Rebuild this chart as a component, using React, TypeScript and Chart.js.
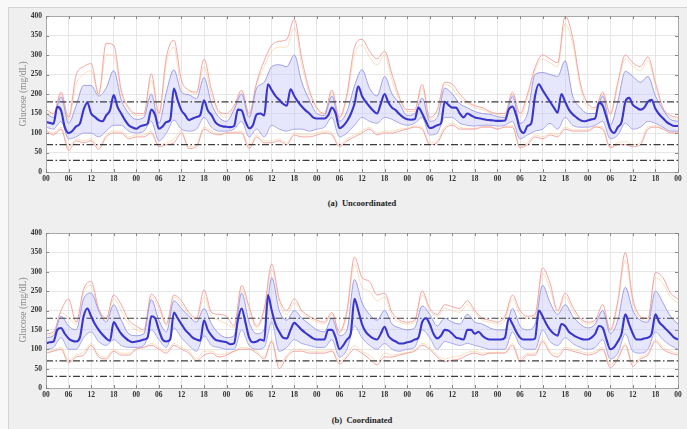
import React, { useEffect, useRef } from 'react';
import { Chart, registerables } from 'chart.js';

Chart.register(...registerables);

// ---------- axes / labels ----------
const X_MAX = 168;
const MEAN_STEP = 1; // hours between mean samples
const BAND_STEP = 2; // hours between percentile samples
const X_TICK_STEP = 6;
const X_TICK_LABELS = ['00', '06', '12', '18'];
const Y_MIN = 0;
const Y_MAX = 400;
const Y_STEP = 50;
const REF_LINES = [180, 70, 30];
const Y_TITLE = 'Glucose (mg/dL)';
const CAPTION_A = '(a)  Uncoordinated';
const CAPTION_B = '(b)  Coordinated';

// ---------- (a) Uncoordinated ----------
const MEAN_A = [
  128, 126, 124, 167, 158, 115, 100, 105, 117, 124, 160, 178, 150, 141, 133, 130, 145, 158, 197, 167, 150, 133, 120, 114,
  111, 117, 120, 124, 160, 146, 111, 117, 128, 133, 214, 184, 158, 146, 133, 137, 141, 146, 184, 158, 146, 128, 120, 117,
  116, 115, 118, 160, 158, 130, 112, 120, 148, 150, 145, 225, 210, 195, 185, 175, 170, 212, 195, 180, 168, 158, 150, 140,
  137, 137, 137, 145, 165, 150, 112, 118, 130, 148, 175, 220, 195, 180, 168, 157, 150, 175, 200, 178, 165, 158, 148, 140,
  135, 134, 135, 165, 150, 130, 113, 115, 120, 125, 180, 172, 165, 165, 150, 140, 150, 145, 140, 138, 136, 134, 133, 132,
  131, 131, 132, 160, 168, 145, 110, 100, 118, 125, 195, 225, 210, 195, 180, 165, 152, 200, 180, 160, 148, 140, 133, 130,
  132, 135, 138, 178, 170, 140, 110, 100, 115, 128, 180, 190, 172, 165, 160, 165, 180, 185, 162, 148, 138, 128, 122, 118, 118,
];
const Q75_A = [
  150, 140, 193, 125, 170, 222, 222, 195, 215, 260, 185, 150,
  135, 140, 200, 125, 205, 262, 205, 198, 188, 242, 175, 140,
  130, 160, 200, 140, 215, 230, 270, 275, 270, 300, 230, 185,
  150, 145, 195, 130, 155, 220, 262, 215, 195, 245, 200, 175,
  145, 150, 190, 130, 140, 215, 200, 175, 165, 155, 150, 148,
  142, 140, 195, 125, 150, 250, 255, 250, 245, 285, 195, 165,
  150, 150, 195, 120, 180, 258, 245, 230, 245, 195, 160, 135,
  130,
];
const Q25_A = [
  115, 110, 130, 85, 90, 100, 100, 90, 105, 120, 120, 105,
  100, 105, 130, 80, 100, 133, 110, 105, 110, 140, 115, 105,
  105, 110, 130, 90, 110, 90, 120, 110, 105, 110, 110, 105,
  110, 115, 140, 90, 100, 120, 140, 130, 125, 140, 135, 125,
  120, 125, 140, 95, 100, 140, 140, 125, 120, 118, 120, 120,
  118, 120, 130, 85, 95, 105, 110, 125, 110, 140, 120, 115,
  115, 120, 130, 85, 95, 125, 110, 115, 130, 125, 115, 105,
  105,
];
const MAX_A = [
  160, 150, 205, 140, 248, 270, 278, 200, 330, 325, 210, 165,
  150, 150, 252, 150, 295, 338, 235, 210, 205, 289, 210, 155,
  150, 170, 210, 150, 230, 285, 325, 335, 340, 392, 290, 210,
  165, 150, 210, 140, 200, 320, 340, 310, 290, 310, 250, 190,
  160, 160, 225, 140, 160, 230, 225, 200, 180, 170, 165, 155,
  150, 150, 205, 150, 200, 268, 300, 290, 280, 400, 345, 230,
  175, 165, 205, 150, 230, 300, 280, 270, 295, 230, 165, 145,
  140,
];
const MIN_A = [
  105, 95, 110, 55, 80, 75, 80, 58, 90, 100, 100, 85,
  90, 90, 100, 65, 70, 75, 100, 60, 65, 110, 100, 95,
  100, 100, 100, 60, 90, 75, 75, 80, 70, 95, 90, 90,
  95, 100, 95, 65, 80, 90, 100, 110, 95, 100, 100, 105,
  110, 115, 110, 70, 75, 110, 120, 110, 110, 110, 115, 115,
  110, 115, 115, 62, 70, 90, 85, 95, 90, 110, 105, 105,
  105, 115, 110, 62, 70, 70, 65, 70, 110, 115, 110, 100,
  100,
];
const P90_A = [
  155, 145, 200, 133, 225, 250, 260, 197, 300, 300, 200, 160,
  145, 145, 235, 140, 280, 320, 215, 205, 200, 270, 195, 150,
  140, 165, 205, 145, 225, 270, 310, 320, 320, 370, 275, 200,
  160, 148, 205, 135, 190, 300, 325, 295, 275, 300, 235, 185,
  155, 155, 215, 135, 155, 225, 215, 190, 175, 165, 160, 152,
  147, 145, 200, 140, 190, 260, 290, 280, 270, 380, 330, 220,
  165, 160, 200, 145, 220, 290, 270, 260, 285, 220, 162, 140,
  135,
];
const P10_A = [
  108, 100, 115, 62, 85, 80, 85, 65, 95, 105, 105, 90,
  95, 95, 105, 70, 75, 85, 105, 65, 70, 115, 105, 98,
  100, 103, 105, 65, 95, 80, 80, 85, 75, 100, 95, 95,
  100, 105, 100, 70, 85, 95, 105, 115, 100, 105, 105, 110,
  112, 118, 115, 75, 80, 115, 125, 115, 112, 112, 117, 117,
  112, 117, 118, 65, 75, 95, 90, 100, 95, 115, 108, 108,
  108, 117, 115, 65, 75, 78, 70, 75, 115, 118, 112, 102,
  102,
];

// ---------- (b) Coordinated ----------
const MEAN_B = [
  115, 118, 120, 150, 155, 140, 128, 122, 120, 130, 185, 205, 185, 165, 150, 138, 128, 122, 170, 155, 140, 130, 122, 118,
  120, 122, 125, 130, 185, 180, 150, 125, 120, 125, 195, 180, 165, 150, 140, 130, 125, 122, 175, 150, 135, 125, 122, 120,
  118, 113, 115, 175, 205, 170, 130, 118, 120, 125, 122, 240, 200, 165, 145, 130, 128, 150, 168, 160, 150, 142, 135, 128,
  125, 125, 125, 150, 150, 130, 100, 110, 125, 140, 230, 200, 165, 145, 135, 128, 125, 140, 158, 135, 125, 120, 115, 115,
  118, 120, 125, 130, 170, 180, 165, 140, 128, 135, 150, 148, 140, 130, 128, 125, 150, 150, 140, 145, 135, 128, 125, 125,
  125, 125, 130, 180, 165, 145, 130, 125, 125, 125, 128, 200, 185, 165, 150, 140, 135, 165, 160, 145, 138, 132, 128, 125,
  125, 130, 140, 160, 155, 125, 100, 105, 120, 140, 190, 165, 140, 125, 125, 128, 130, 140, 190, 170, 160, 150, 140, 130, 125,
];
const Q75_B = [
  130, 135, 185, 160, 150, 230, 245, 200, 170, 215, 175, 140,
  135, 140, 228, 175, 145, 225, 205, 185, 170, 205, 165, 140,
  130, 135, 245, 170, 140, 150, 285, 200, 175, 200, 180, 165,
  150, 145, 180, 135, 150, 280, 220, 190, 175, 200, 165, 155,
  150, 155, 212, 190, 160, 180, 170, 165, 190, 170, 165, 155,
  150, 150, 205, 160, 150, 165, 265, 220, 190, 215, 185, 165,
  155, 165, 200, 140, 175, 260, 200, 175, 170, 250, 220, 185,
  165,
];
const Q25_B = [
  100, 105, 130, 100, 100, 130, 145, 120, 110, 125, 110, 105,
  105, 110, 150, 125, 105, 155, 130, 110, 95, 135, 110, 105,
  100, 100, 150, 110, 100, 105, 170, 95, 105, 125, 115, 110,
  105, 105, 125, 80, 100, 160, 130, 110, 100, 115, 100, 95,
  100, 105, 150, 130, 100, 120, 115, 110, 115, 110, 105, 100,
  100, 100, 145, 110, 100, 100, 150, 120, 110, 130, 115, 105,
  100, 105, 125, 75, 90, 140, 95, 90, 100, 145, 125, 110,
  100,
];
const MAX_B = [
  140, 145, 200, 230, 170, 255, 275, 205, 180, 240, 215, 175,
  160, 150, 242, 215, 165, 240, 225, 195, 180, 253, 195, 190,
  185, 160, 265, 210, 160, 205, 320, 230, 200, 230, 200, 185,
  175, 170, 195, 145, 200, 338, 285, 275, 240, 245, 195, 175,
  170, 175, 250, 205, 190, 215, 210, 205, 225, 200, 180, 175,
  170, 185, 240, 200, 185, 190, 310, 270, 200, 245, 210, 180,
  170, 175, 215, 150, 225, 350, 230, 185, 180, 298, 285, 245,
  230,
];
const MIN_B = [
  90, 95, 100, 65, 80, 85, 110, 80, 75, 95, 85, 85,
  100, 105, 110, 100, 90, 110, 100, 90, 70, 85, 90, 80,
  85, 95, 100, 100, 90, 75, 120, 50, 80, 95, 95, 90,
  90, 90, 95, 62, 80, 100, 90, 75, 60, 80, 80, 85,
  90, 95, 110, 100, 80, 68, 72, 75, 85, 90, 85, 90,
  90, 90, 110, 68, 85, 85, 120, 90, 80, 100, 95, 90,
  85, 90, 100, 52, 75, 110, 56, 75, 85, 120, 100, 90,
  85,
];
const P90_B = [
  135, 140, 195, 180, 165, 245, 265, 200, 175, 230, 200, 165,
  150, 145, 235, 205, 160, 235, 215, 190, 175, 235, 185, 175,
  165, 155, 255, 200, 155, 195, 305, 220, 190, 220, 195, 180,
  170, 165, 190, 142, 190, 320, 260, 250, 225, 235, 185, 170,
  165, 170, 240, 200, 185, 205, 200, 195, 215, 195, 175, 170,
  165, 175, 230, 190, 180, 185, 295, 255, 195, 235, 200, 175,
  165, 170, 200, 145, 215, 330, 220, 180, 175, 285, 270, 235,
  220,
];
const P10_B = [
  95, 98, 105, 72, 85, 92, 115, 85, 80, 100, 90, 90,
  102, 105, 115, 105, 95, 115, 105, 95, 75, 95, 95, 85,
  90, 95, 105, 102, 95, 80, 125, 60, 85, 100, 100, 95,
  95, 95, 100, 68, 85, 110, 95, 85, 68, 90, 85, 88,
  92, 98, 115, 105, 85, 75, 80, 82, 92, 95, 90, 92,
  92, 92, 115, 75, 90, 90, 125, 95, 88, 105, 100, 95,
  90, 95, 105, 60, 80, 115, 65, 80, 90, 125, 105, 95,
  90,
];

// ---------- styling ----------
const FONT = "'Liberation Serif', 'Times New Roman', serif";
const W = 687;

function pts(arr: number[], step: number) {
  return arr.map((v, i) => ({ x: i * step, y: v }));
}

const framePlugin = {
  id: 'frame',
  beforeDraw(chart: any) {
    const { ctx, chartArea: a } = chart;
    ctx.save();
    ctx.fillStyle = '#ffffff';
    ctx.fillRect(a.left, a.top, a.right - a.left, a.bottom - a.top);
    ctx.restore();
  },
  afterDraw(chart: any) {
    const { ctx, chartArea: a, scales } = chart;
    ctx.save();
    ctx.strokeStyle = '#a8a8a8';
    ctx.lineWidth = 1;
    ctx.strokeRect(Math.round(a.left) + 0.5, Math.round(a.top) + 0.5, Math.round(a.right - a.left), Math.round(a.bottom - a.top));
    ctx.strokeStyle = '#888888';
    ctx.beginPath();
    scales.y.ticks.forEach((t: any) => {
      const y = Math.round(scales.y.getPixelForValue(t.value)) + 0.5;
      ctx.moveTo(a.left, y);
      ctx.lineTo(a.left + 3, y);
      ctx.moveTo(a.right, y);
      ctx.lineTo(a.right - 3, y);
    });
    scales.x.ticks.forEach((t: any) => {
      const x = Math.round(scales.x.getPixelForValue(t.value)) + 0.5;
      ctx.moveTo(x, a.bottom);
      ctx.lineTo(x, a.bottom - 3);
      ctx.moveTo(x, a.top);
      ctx.lineTo(x, a.top + 3);
    });
    ctx.stroke();
    ctx.restore();
  },
};

type PanelProps = {
  top: number;
  height: number;
  padTop: number;
  mean: number[];
  q75: number[];
  q25: number[];
  max: number[];
  min: number[];
  p90: number[];
  p10: number[];
};

function Panel(props: PanelProps) {
  const ref = useRef<HTMLCanvasElement | null>(null);
  useEffect(() => {
    const smooth = { pointRadius: 0, fill: false, cubicInterpolationMode: 'monotone' as const };
    const datasets: any[] = [
      { ...smooth, data: pts(props.mean, MEAN_STEP), borderColor: '#3a36cc', borderWidth: 2.1 },
      ...REF_LINES.map((v) => ({
        pointRadius: 0,
        fill: false,
        data: [{ x: 0, y: v }, { x: X_MAX, y: v }],
        borderColor: '#3c3c3c',
        borderWidth: 1.2,
        borderDash: [7, 2.5, 1.5, 2.5],
      })),
      {
        ...smooth,
        data: pts(props.q75, BAND_STEP),
        borderColor: '#9494e8',
        borderWidth: 0.9,
        fill: '+1',
        backgroundColor: 'rgba(200,200,248,0.45)',
      },
      { ...smooth, data: pts(props.q25, BAND_STEP), borderColor: '#9494e8', borderWidth: 0.9 },
      { ...smooth, data: pts(props.max, BAND_STEP), borderColor: '#f39a9a', borderWidth: 0.9 },
      { ...smooth, data: pts(props.min, BAND_STEP), borderColor: '#f39a9a', borderWidth: 0.9 },
      { ...smooth, data: pts(props.p90, BAND_STEP), borderColor: 'rgba(242,190,125,0.6)', borderWidth: 0.8 },
      { ...smooth, data: pts(props.p10, BAND_STEP), borderColor: 'rgba(242,190,125,0.6)', borderWidth: 0.8 },
    ];
    const tickFont = { family: FONT, size: 7.5, weight: 'bold' as const };
    const chart = new Chart(ref.current as HTMLCanvasElement, {
      type: 'line',
      data: { datasets },
      options: {
        animation: false,
        responsive: false,
        devicePixelRatio: 1,
        layout: { padding: { left: 6, right: 9, top: props.padTop, bottom: 3 } },
        plugins: { legend: { display: false }, tooltip: { enabled: false }, title: { display: false } },
        elements: { point: { radius: 0 } },
        scales: {
          x: {
            type: 'linear',
            min: 0,
            max: X_MAX,
            afterFit: (s: any) => {
              s.height = 20;
            },
            ticks: {
              stepSize: X_TICK_STEP,
              autoSkip: false,
              maxRotation: 0,
              padding: 3,
              font: tickFont,
              color: '#333',
              callback: (v: any) => X_TICK_LABELS[Math.round(Number(v) / X_TICK_STEP) % X_TICK_LABELS.length],
            },
            grid: { color: '#e6e6e6', drawTicks: false },
            border: { display: false },
          },
          y: {
            type: 'linear',
            min: Y_MIN,
            max: Y_MAX,
            afterFit: (s: any) => {
              s.width = 40;
            },
            ticks: { stepSize: Y_STEP, padding: 4, font: tickFont, color: '#333' },
            grid: { color: '#e6e6e6', drawTicks: false },
            border: { display: false },
          },
        },
      } as any,
      plugins: [framePlugin],
    });
    return () => chart.destroy();
  }, []);
  return (
    <canvas
      ref={ref}
      width={W}
      height={props.height}
      style={{ position: 'absolute', left: 0, top: props.top, width: W, height: props.height }}
    />
  );
}

const yTitleStyle = (cy: number): React.CSSProperties => ({
  position: 'absolute',
  left: 23,
  top: cy,
  transform: 'translate(-50%, -50%) rotate(-90deg)',
  whiteSpace: 'nowrap',
  fontFamily: FONT,
  fontSize: 9.5,
  color: '#8a8a8a',
});

const captionStyle = (cy: number): React.CSSProperties => ({
  position: 'absolute',
  left: 362,
  top: cy,
  transform: 'translate(-50%, -50%)',
  whiteSpace: 'pre',
  fontFamily: FONT,
  fontSize: 8.5,
  fontWeight: 'bold',
  color: '#222',
});

export default function App() {
  return (
    <div style={{ position: 'absolute', left: 0, top: 0, width: W, height: 429, background: '#f8f8f8', overflow: 'hidden' }}>
      <div
        style={{
          position: 'absolute',
          left: 8,
          top: 7,
          width: 690,
          height: 430,
          background: '#efefef',
          borderLeft: '1px solid #d4d4d4',
          borderTop: '1px solid #d4d4d4',
        }}
      />
      <Panel top={0} height={195} padTop={16} mean={MEAN_A} q75={Q75_A} q25={Q25_A} max={MAX_A} min={MIN_A} p90={P90_A} p10={P10_A} />
      <Panel top={215} height={196} padTop={18} mean={MEAN_B} q75={Q75_B} q25={Q25_B} max={MAX_B} min={MIN_B} p90={P90_B} p10={P10_B} />
      <div style={yTitleStyle(94)}>{Y_TITLE}</div>
      <div style={yTitleStyle(310)}>{Y_TITLE}</div>
      <div style={captionStyle(203)}>{CAPTION_A}</div>
      <div style={captionStyle(420)}>{CAPTION_B}</div>
    </div>
  );
}
